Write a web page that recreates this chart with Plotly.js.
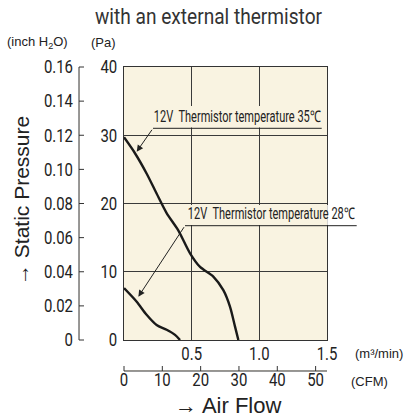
<!DOCTYPE html>
<html><head><meta charset="utf-8">
<script src="https://cdn.plot.ly/plotly-3.0.1.min.js"></script>
<style>html,body{margin:0;padding:0;background:#fff;}#chart{width:404px;height:418px;}</style>
</head><body><div id="chart"></div>
<script>
// Data
const flow35 = [0, 0.08, 0.167, 0.24, 0.315, 0.40, 0.488, 0.562, 0.66, 0.734, 0.783, 0.82, 0.845];
const pressure35 = [29.7, 27.4, 24.4, 21.5, 18.6, 16.1, 12.7, 10.7, 9.3, 7.3, 4.9, 2.0, 0];
const flow28 = [0, 0.094, 0.167, 0.241, 0.315, 0.377, 0.414];
const pressure28 = [7.6, 5.6, 3.7, 2.2, 1.5, 0.75, 0];
const label35 = "12V\u00a0 Thermistor temperature 35\u2103";
const label28 = "12V\u00a0 Thermistor temperature 28\u2103";
const paTicks = [0, 10, 20, 30, 40];
const inchTicks = [0, 0.02, 0.04, 0.06, 0.08, 0.10, 0.12, 0.14, 0.16];
const inchLabels = ["0", "0.02", "0.04", "0.06", "0.08", "0.10", "0.12", "0.14", "0.16"];
const m3Ticks = [0.5, 1.0, 1.5];
const m3Labels = ["0.5", "1.0", "1.5"];
const cfmTicks = [0, 10, 20, 30, 40, 50];
const CFM_PER_M3MIN = 35.3147;

// geometry helpers (pixel -> paper)
const W = 404, H = 418, ML = 79, MR = 77, MT = 67, MB = 47;
const PW = W - ML - MR, PH = H - MT - MB;
const X = px => (px - ML) / PW;
const Y = py => (H - MB - py) / PH;

const NARROW = "Roboto";
const SANS = "Liberation Sans, Arial, sans-serif";
const INK = "#222";
const AXIS = "#333";
const CREAM = "#f9f3e1";
const inchRange = [0, 0.16];
const cfmRange = [0, 1.5 * CFM_PER_M3MIN];
const TICKLEN = 5;

const curveLine = {color: "#1a1a1a", width: 2.4, shape: "spline", smoothing: 0.8};
const traces = [
  {x: flow35, y: pressure35, mode: "lines", line: curveLine, hoverinfo: "skip", showlegend: false},
  {x: flow28, y: pressure28, mode: "lines", line: curveLine, hoverinfo: "skip", showlegend: false},
  // empty traces so the secondary (inch / CFM) axes get their labels
  {x: [], y: [], xaxis: "x3", yaxis: "y2", mode: "lines", hoverinfo: "skip", showlegend: false},
  {x: [], y: [], xaxis: "x2", yaxis: "y3", mode: "lines", hoverinfo: "skip", showlegend: false}
];

const tickFont = {family: NARROW, size: 18, color: INK};
const plotXDomain = [X(124), 1];
const plotYDomain = [Y(340), 1];

// axis lines and tick marks of the secondary scales (positions in the axes' own domain fractions)
const secondaryAxisShapes = [
  {type: "line", xref: "paper", yref: "y2 domain", x0: 0, x1: 0, y0: 0, y1: 1, line: {color: AXIS, width: 1}, layer: "above"},
  ...inchTicks.map(v => {
    const f = (v - inchRange[0]) / (inchRange[1] - inchRange[0]);
    return {type: "line", xref: "paper", yref: "y2 domain", x0: 0, x1: TICKLEN / PW, y0: f, y1: f, line: {color: AXIS, width: 1}, layer: "above"};
  }),
  {type: "line", xref: "x2 domain", yref: "paper", x0: 0, x1: 1, y0: 0, y1: 0, line: {color: AXIS, width: 1}, layer: "above"},
  ...cfmTicks.map(v => {
    const f = (v - cfmRange[0]) / (cfmRange[1] - cfmRange[0]);
    return {type: "line", xref: "x2 domain", yref: "paper", x0: f, x1: f, y0: 0, y1: TICKLEN / PH, line: {color: AXIS, width: 1}, layer: "above"};
  })
];

const layout = {
  width: W, height: H,
  margin: {l: ML, r: MR, t: MT, b: MB, pad: 0},
  paper_bgcolor: "#fff",
  plot_bgcolor: CREAM,
  showlegend: false,
  title: {text: "with an external thermistor", font: {family: NARROW, size: 22, color: "#333"},
          xref: "container", yref: "container", x: 208.5 / W, y: 1 - 16 / H, xanchor: "center", yanchor: "middle"},
  xaxis: {domain: plotXDomain, anchor: "y", range: [0, 1.5], tickvals: m3Ticks, ticktext: m3Labels, ticks: "",
          showgrid: true, gridcolor: "#3a3a3a", gridwidth: 1, zeroline: false,
          showline: true, linecolor: AXIS, linewidth: 1.2, mirror: true,
          tickfont: tickFont, ticklabelstandoff: -3, fixedrange: true},
  yaxis: {domain: plotYDomain, anchor: "x", range: [0, 40], tickvals: paTicks, ticks: "",
          showgrid: true, gridcolor: "#3a3a3a", gridwidth: 1, zeroline: false,
          showline: true, linecolor: AXIS, linewidth: 1.2, mirror: true,
          tickfont: tickFont, ticklabelstandoff: 2, fixedrange: true},
  // inch H2O scale, anchored to a hair-thin helper x axis at the paper's left edge
  xaxis3: {domain: [0, 0.002], anchor: "y2", visible: false, fixedrange: true},
  yaxis2: {domain: plotYDomain, anchor: "x3", side: "left", range: inchRange,
           tickvals: inchTicks, ticktext: inchLabels, ticks: "inside", ticklen: TICKLEN, tickcolor: "rgba(0,0,0,0)",
           showgrid: false, zeroline: false, showline: false,
           tickfont: tickFont, ticklabelstandoff: 5, fixedrange: true},
  // CFM scale, anchored to a hair-thin helper y axis at the paper's bottom edge
  yaxis3: {domain: [0, 0.002], anchor: "x2", visible: false, fixedrange: true},
  xaxis2: {domain: plotXDomain, anchor: "y3", side: "bottom", range: cfmRange,
           tickvals: cfmTicks, ticks: "inside", ticklen: TICKLEN, tickcolor: "rgba(0,0,0,0)",
           showgrid: false, zeroline: false, showline: false,
           tickfont: tickFont, ticklabelstandoff: -4, fixedrange: true},
  shapes: [
    // masks behind the labels (hide grid lines)
    {type: "rect", xref: "paper", yref: "paper", x0: X(153), x1: X(322), y0: Y(127.5), y1: Y(106), fillcolor: CREAM, line: {width: 0}, layer: "above"},
    {type: "rect", xref: "paper", yref: "paper", x0: X(185), x1: X(327.3), y0: Y(225), y1: Y(205), fillcolor: CREAM, line: {width: 0}, layer: "above"},
    {type: "rect", xref: "paper", yref: "paper", x0: X(327.3), x1: X(358), y0: Y(225), y1: Y(205), fillcolor: "#fff", line: {width: 0}, layer: "above"},
    // underlines
    {type: "line", xref: "paper", yref: "paper", x0: X(153), x1: X(321.7), y0: Y(128.3), y1: Y(128.3), line: {color: INK, width: 1}, layer: "above"},
    {type: "line", xref: "paper", yref: "paper", x0: X(185), x1: X(356.7), y0: Y(225.7), y1: Y(225.7), line: {color: INK, width: 1}, layer: "above"},
    ...secondaryAxisShapes
  ],
  annotations: [
    {text: label35, xref: "paper", yref: "paper", x: X(237.5), y: Y(116.5), xanchor: "center", yanchor: "middle", showarrow: false, font: {family: NARROW, size: 16, color: INK}},
    {text: label28, xref: "paper", yref: "paper", x: X(271), y: Y(213.5), xanchor: "center", yanchor: "middle", showarrow: false, font: {family: NARROW, size: 16, color: INK}},
    {text: "", x: 0.094, y: 27.6, xref: "x", yref: "y", axref: "x", ayref: "y", ax: 0.2143, ay: 31.02,
     showarrow: true, arrowhead: 2, arrowsize: 1.3, arrowwidth: 1, arrowcolor: INK, standoff: 0},
    {text: "", x: 0.106, y: 6.34, xref: "x", yref: "y", axref: "x", ayref: "y", ax: 0.4507, ay: 16.75,
     showarrow: true, arrowhead: 2, arrowsize: 1.3, arrowwidth: 1, arrowcolor: INK, standoff: 0},
    {text: "\u2192 Static Pressure", xref: "paper", yref: "paper", x: X(21), y: Y(201), textangle: -90, showarrow: false,
     xanchor: "center", yanchor: "middle", font: {family: SANS, size: 21, color: INK}},
    {text: "\u2192 Air Flow", xref: "paper", yref: "paper", x: X(228), y: Y(405), showarrow: false,
     xanchor: "center", yanchor: "middle", font: {family: SANS, size: 22, color: INK}},
    {text: "(inch H<sub>2</sub>O)", xref: "paper", yref: "paper", x: X(37), y: Y(43), showarrow: false,
     xanchor: "center", yanchor: "middle", font: {family: SANS, size: 13, color: INK}},
    {text: "(Pa)", xref: "paper", yref: "paper", x: X(103.5), y: Y(43), showarrow: false,
     xanchor: "center", yanchor: "middle", font: {family: SANS, size: 13, color: INK}},
    {text: "(m\u00b3/min)", xref: "paper", yref: "paper", x: X(379), y: Y(353), showarrow: false,
     xanchor: "center", yanchor: "middle", font: {family: SANS, size: 13, color: INK}},
    {text: "(CFM)", xref: "paper", yref: "paper", x: X(369), y: Y(381), showarrow: false,
     xanchor: "center", yanchor: "middle", font: {family: SANS, size: 13, color: INK}}
  ]
};

// Horizontal condensing of the narrow-face texts (the reference uses a condensed typeface)
function condense() {
  document.querySelectorAll("#chart svg text").forEach(el => {
    const fam = (el.style.fontFamily || "").replace(/["']/g, "");
    if (fam.indexOf("Roboto") !== 0) return;
    const w = el.getComputedTextLength();
    if (!w) return;
    const t = el.textContent;
    let target;
    if (el.classList.contains("gtitle")) target = 227;
    else if (t.indexOf("12V") === 0) target = 167;
    else target = w * 0.83;
    el.setAttribute("textLength", target.toFixed(1));
    el.setAttribute("lengthAdjust", "spacingAndGlyphs");
  });
}

Plotly.newPlot("chart", traces, layout, {displayModeBar: false, staticPlot: true}).then(condense);
</script>
</body></html>
